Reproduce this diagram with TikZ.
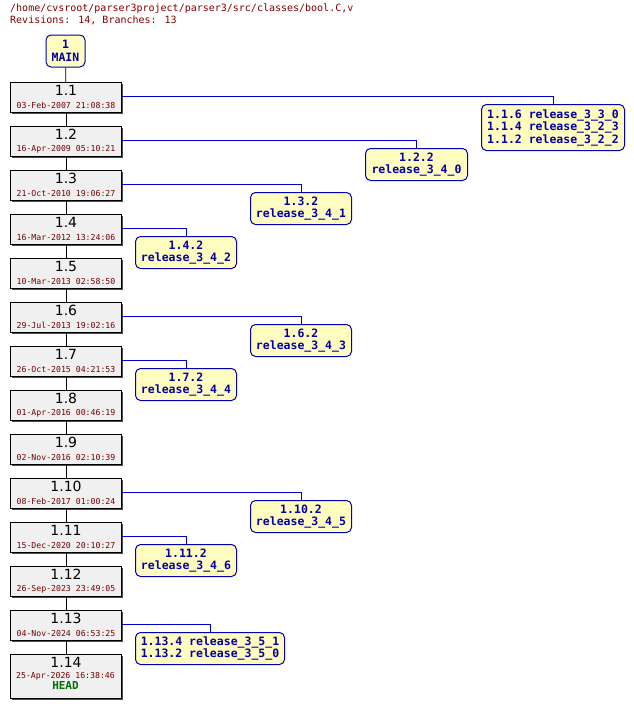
\documentclass[tikz,border=0pt]{standalone}
\usepackage{fontspec}
\setmainfont{DejaVu Sans}
\newfontfamily\mono{DejaVu Sans Mono}
\begin{document}
\begin{tikzpicture}[x=1pt,y=-1pt,
 rev/.style={draw=black,line width=1pt,fill=black!6,minimum width=111pt,minimum height=30pt,inner sep=0pt,align=center},
 br/.style={draw=blue!70!black,line width=1pt,fill=yellow!25,rounded corners=5pt,inner sep=1pt,align=center,font=\mono\bfseries\fontsize{11.5}{12.5}\selectfont,text=blue!65!black},
 ver/.style={inner sep=0pt,font=\fontsize{14}{15}\selectfont},
 dat/.style={inner sep=0pt,text=red!45!black,font=\mono\fontsize{8.2}{9}\selectfont},
 con/.style={blue!80!black,line width=0.8pt},
 tr/.style={black,line width=0.8pt}]
\useasboundingbox (0,0) rectangle (633,707);
\node[anchor=north west,align=left,font=\mono\fontsize{10}{12}\selectfont,text=red!50!black,inner sep=0pt] (hdr) at (10,4) {/home/cvsroot/parser3project/parser3/src/classes/bool.C,v\\Revisions: 14, Branches: 13};
\node[br,minimum width=39pt,minimum height=32pt] (m) at (65.5,51) {1\\MAIN};
\foreach \n/\y in {r1/82,r2/126,r3/170,r4/214,r5/258,r6/302,r7/346,r8/390,r9/434,r10/478,r11/522,r12/566,r13/610}{
 \fill[black!70] (12,\y+2) rectangle (123,\y+32);
 \node[rev,anchor=north west] (\n) at (10,\y) {};
}
\foreach \n/\v/\d in {r1/1.1/03-Feb-2007 21:08:38,r2/1.2/16-Apr-2009 05:10:21,r3/1.3/21-Oct-2010 19:06:27,r4/1.4/16-Mar-2012 13:24:06,r5/1.5/10-Mar-2013 02:58:50,r6/1.6/29-Jul-2013 19:02:16,r7/1.7/26-Oct-2015 04:21:53,r8/1.8/01-Apr-2016 00:46:19,r9/1.9/02-Nov-2016 02:10:39,r10/1.10/08-Feb-2017 01:00:24,r11/1.11/15-Dec-2020 20:10:27,r12/1.12/26-Sep-2023 23:49:05,r13/1.13/04-Nov-2024 06:53:25}{
 \node[ver,anchor=north] at ([yshift=-3pt]\n.north) {\v};
 \node[dat,anchor=south] at ([yshift=4pt]\n.south) {\d};
}
\fill[black!70] (12,656) rectangle (123,700);
\node[rev,anchor=north west,minimum height=44pt] (r14) at (10,654) {};
\node[ver,anchor=north] at ([yshift=-3pt]r14.north) {1.14};
\node[dat,anchor=north] at (65.5,672) {25-Apr-2026 16:38:46};
\node[anchor=north,inner sep=0pt,text=green!45!black,font=\mono\bfseries\fontsize{11}{12}\selectfont] at (65.5,681) {HEAD};
\draw[tr] (m) -- (r1);
\foreach \a/\b in {r1/r2,r2/r3,r3/r4,r4/r5,r5/r6,r6/r7,r7/r8,r8/r9,r9/r10,r10/r11,r11/r12,r12/r13,r13/r14} \draw[tr] (\a) -- (\b);
\node[br,anchor=north west,minimum width=143pt,minimum height=46pt] (b1) at (481,104) {1.1.6 release\_3\_3\_0\\1.1.4 release\_3\_2\_3\\1.1.2 release\_3\_2\_2};
\node[br,anchor=north west,minimum width=102pt,minimum height=32pt] (b2) at (365,148) {1.2.2\\release\_3\_4\_0};
\node[br,anchor=north west,minimum width=101pt,minimum height=32pt] (b3) at (250,192) {1.3.2\\release\_3\_4\_1};
\node[br,anchor=north west,minimum width=101pt,minimum height=32pt] (b4) at (135,236) {1.4.2\\release\_3\_4\_2};
\node[br,anchor=north west,minimum width=101pt,minimum height=32pt] (b6) at (250,324) {1.6.2\\release\_3\_4\_3};
\node[br,anchor=north west,minimum width=101pt,minimum height=32pt] (b7) at (135,368) {1.7.2\\release\_3\_4\_4};
\node[br,anchor=north west,minimum width=101pt,minimum height=32pt] (b10) at (250,500) {1.10.2\\release\_3\_4\_5};
\node[br,anchor=north west,minimum width=101pt,minimum height=32pt] (b11) at (135,544) {1.11.2\\release\_3\_4\_6};
\node[br,anchor=north west,minimum width=149pt,minimum height=32pt] (b13) at (135,632) {1.13.4 release\_3\_5\_1\\1.13.2 release\_3\_5\_0};
\foreach \r/\b in {r1/b1,r2/b2,r3/b3,r4/b4,r6/b6,r7/b7,r10/b10,r11/b11,r13/b13}
 \draw[con] ([yshift=1pt]\r.east) -| (\b.north);
\end{tikzpicture}
\end{document}
